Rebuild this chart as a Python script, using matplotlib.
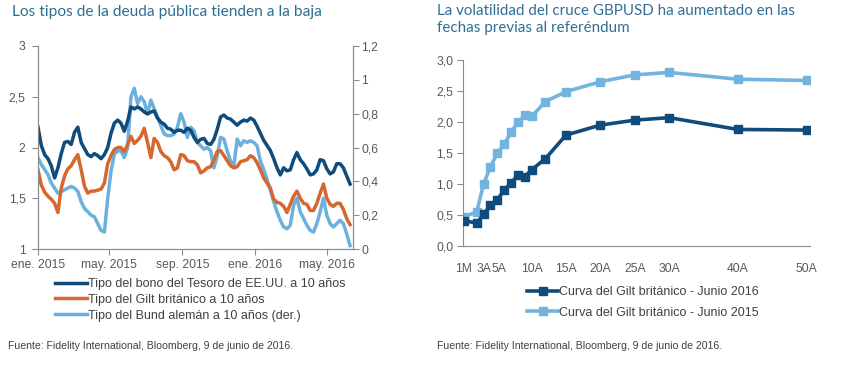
import matplotlib
matplotlib.use("Agg")
import matplotlib.pyplot as plt
import pandas as pd

# ---------------- data: left chart ----------------
start_date = "2015-01-01"
end_date = "2016-06-09"
us_10y = [2.20, 2.02, 1.93, 1.89, 1.82, 1.70, 1.80, 1.94, 2.05, 2.06,
          2.03, 2.15, 2.20, 2.05, 1.99, 1.93, 1.91, 1.94, 1.92, 1.89,
          1.93, 2.00, 2.14, 2.24, 2.27, 2.24, 2.16, 2.26, 2.40, 2.38,
          2.40, 2.38, 2.35, 2.33, 2.35, 2.36, 2.29, 2.25, 2.23, 2.19,
          2.18, 2.15, 2.17, 2.17, 2.15, 2.19, 2.17, 2.10, 2.05, 2.08,
          2.09, 2.04, 2.03, 2.08, 2.18, 2.30, 2.32, 2.29, 2.28, 2.25,
          2.22, 2.25, 2.27, 2.26, 2.29, 2.27, 2.21, 2.14, 2.07, 2.02,
          1.97, 1.89, 1.80, 1.73, 1.80, 1.77, 1.78, 1.88, 1.95, 1.88,
          1.84, 1.79, 1.73, 1.74, 1.78, 1.88, 1.87, 1.79, 1.74, 1.76,
          1.84, 1.84, 1.80, 1.72, 1.64]
gilt_10y = [1.78, 1.63, 1.56, 1.52, 1.49, 1.45, 1.36, 1.60, 1.72, 1.79,
            1.82, 1.88, 1.93, 1.78, 1.62, 1.55, 1.57, 1.57, 1.58, 1.59,
            1.65, 1.84, 1.92, 1.98, 2.00, 2.00, 1.96, 2.03, 2.11, 2.04,
            2.07, 2.11, 2.19, 2.05, 1.90, 2.09, 2.05, 1.96, 1.92, 1.90,
            1.86, 1.78, 1.80, 1.93, 1.92, 1.87, 1.86, 1.86, 1.83, 1.75,
            1.77, 1.80, 1.81, 1.88, 1.96, 1.97, 1.92, 1.87, 1.82, 1.80,
            1.81, 1.86, 1.87, 1.88, 1.92, 1.90, 1.85, 1.78, 1.70, 1.65,
            1.60, 1.49, 1.46, 1.45, 1.42, 1.36, 1.44, 1.52, 1.57, 1.50,
            1.45, 1.44, 1.38, 1.38, 1.45, 1.55, 1.64, 1.50, 1.44, 1.42,
            1.45, 1.45, 1.39, 1.30, 1.24]
bund_10y = [0.54, 0.50, 0.47, 0.44, 0.39, 0.36, 0.33, 0.34, 0.35, 0.36,
            0.37, 0.36, 0.34, 0.28, 0.24, 0.22, 0.20, 0.19, 0.15, 0.11,
            0.10, 0.30, 0.46, 0.56, 0.58, 0.58, 0.54, 0.60, 0.90, 0.95,
            0.86, 0.90, 0.87, 0.80, 0.88, 0.83, 0.78, 0.73, 0.68, 0.67,
            0.67, 0.68, 0.72, 0.80, 0.75, 0.66, 0.72, 0.70, 0.63, 0.61,
            0.59, 0.60, 0.58, 0.48, 0.55, 0.66, 0.65, 0.58, 0.52, 0.49,
            0.65, 0.61, 0.64, 0.63, 0.64, 0.63, 0.61, 0.52, 0.47, 0.41,
            0.35, 0.28, 0.22, 0.17, 0.13, 0.12, 0.14, 0.26, 0.30, 0.22,
            0.18, 0.14, 0.11, 0.10, 0.15, 0.22, 0.30, 0.20, 0.15, 0.13,
            0.15, 0.17, 0.15, 0.09, 0.02]
left_tick_dates = ["2015-01-01", "2015-05-01", "2015-09-01", "2016-01-01", "2016-05-01"]
left_tick_labels = ["ene. 2015", "may. 2015", "sep. 2015", "ene. 2016", "may. 2016"]
left_yticks = [1, 1.5, 2, 2.5, 3]
left_ylabels = ["1", "1,5", "2", "2,5", "3"]
right_yticks = [0, 0.2, 0.4, 0.6, 0.8, 1, 1.2]
right_ylabels = ["0", "0,2", "0,4", "0,6", "0,8", "1", "1,2"]
left_names = ["Tipo del bono del Tesoro de EE.UU. a 10 años",
              "Tipo del Gilt británico a 10 años",
              "Tipo del Bund alemán a 10 años (der.)"]

# ---------------- data: right chart ----------------
maturities = [1/12, 2, 3, 4, 5, 6, 7, 8, 9, 10, 12, 15, 20, 25, 30, 40, 50]
curve_2016 = [0.41, 0.37, 0.51, 0.66, 0.75, 0.90, 1.02, 1.14, 1.12, 1.23,
              1.41, 1.79, 1.95, 2.03, 2.07, 1.88, 1.87]
curve_2015 = [0.47, 0.55, 1.00, 1.28, 1.50, 1.64, 1.84, 2.00, 2.11, 2.09,
              2.33, 2.49, 2.65, 2.76, 2.80, 2.69, 2.67]
right_xticks = [1/12, 3, 5.3, 10, 15, 20, 25, 30, 40, 50]
right_xlabels = ["1M", "3A", "5A", "10A", "15A", "20A", "25A", "30A", "40A", "50A"]
right_yticks_c = [0, 0.5, 1.0, 1.5, 2.0, 2.5, 3.0]
right_names = ["Curva del Gilt británico - Junio 2016", "Curva del Gilt británico - Junio 2015"]

# ---------------- style ----------------
DARK = "#0f4c7d"
ORANGE = "#d5682f"
LIGHT = "#6cb0de"
LIGHT2 = "#72b4df"
AXIS = "#8c8c8c"
TICKTXT = "#595959"
TITLE = "#2f6f93"
TXT = "#404040"

plt.rcParams["font.family"] = ["Liberation Sans", "DejaVu Sans"]

fig = plt.figure(figsize=(8.42, 3.74), dpi=100)

# ---- left chart ----
ax = fig.add_axes([38/842, 1-249/374, (353-38)/842, (249-46)/374])
ax2 = ax.twinx()
dates = pd.date_range(start_date, end_date, periods=len(us_10y))
l1, = ax.plot(dates, us_10y, color=DARK, lw=2.5, solid_joinstyle="round")
l2, = ax.plot(dates, gilt_10y, color=ORANGE, lw=2.5, solid_joinstyle="round")
l3, = ax2.plot(dates, bund_10y, color=LIGHT, lw=2.5, solid_joinstyle="round")
ax.set_zorder(ax2.get_zorder() + 1)
ax.patch.set_visible(False)

ax.set_xlim(pd.Timestamp("2015-01-01"), pd.Timestamp("2016-06-14"))
ax.set_ylim(1, 3)
ax2.set_ylim(0, 1.2)
ax.set_yticks(left_yticks)
ax.set_yticklabels(left_ylabels)
ax2.set_yticks(right_yticks)
ax2.set_yticklabels(right_ylabels)
ax.set_xticks(pd.to_datetime(left_tick_dates))
ax.set_xticklabels(left_tick_labels)
for a in (ax, ax2):
    a.spines["top"].set_visible(False)
    for s in ("left", "right", "bottom"):
        a.spines[s].set_color(AXIS)
        a.spines[s].set_linewidth(0.8)
    a.tick_params(colors=AXIS, labelcolor=TICKTXT, labelsize=8.7, length=4, width=0.8)
ax.tick_params(axis="y", pad=5)
ax2.tick_params(axis="y", pad=2)
ax.tick_params(axis="x", pad=3)

fig.text(12/842, 1-12/374, "Los tipos de la deuda pública tienden a la baja",
         fontsize=11.2, color=TITLE, family=["Lato", "DejaVu Sans"], va="center", ha="left")

fig.legend([l1, l2, l3], left_names, loc="upper left", bbox_to_anchor=(55/842, 1-278/374),
           frameon=False, fontsize=9.0, handlelength=2.55, handletextpad=0.05,
           labelspacing=0.3, borderpad=0, borderaxespad=0, labelcolor=TXT)

fig.text(8/842, 1-346/374, "Fuente: Fidelity International, Bloomberg, 9 de junio de 2016.",
         fontsize=7.6, color=TXT, va="center", ha="left")

# ---- right chart ----
bx = fig.add_axes([463/842, 1-246/374, (810-463)/842, (246-60)/374])
m1, = bx.plot(maturities, curve_2016, color=DARK, lw=2.6, marker="s", ms=5.8, zorder=3)
m2, = bx.plot(maturities, curve_2015, color=LIGHT2, lw=2.6, marker="s", ms=5.8, zorder=2)
bx.set_xlim(0, 50.5)
bx.set_ylim(0, 3.0)
bx.set_yticks(right_yticks_c)
bx.set_yticklabels([f"{v:.1f}".replace(".", ",") for v in right_yticks_c])
bx.set_xticks(right_xticks)
bx.set_xticklabels(right_xlabels)
for s in ("top", "right"):
    bx.spines[s].set_visible(False)
for s in ("left", "bottom"):
    bx.spines[s].set_color(AXIS)
    bx.spines[s].set_linewidth(0.8)
bx.tick_params(colors=AXIS, labelcolor=TICKTXT, labelsize=8.7, width=0.8)
bx.tick_params(axis="y", length=4, pad=3)
bx.tick_params(axis="x", length=0, pad=12)

fig.text(437/842, 1-11/374, "La volatilidad del cruce GBPUSD ha aumentado en las",
         fontsize=10.9, color=TITLE, family=["Lato", "DejaVu Sans"], va="center", ha="left")
fig.text(437/842, 1-28/374, "fechas previas al referéndum",
         fontsize=10.9, color=TITLE, family=["Lato", "DejaVu Sans"], va="center", ha="left")

fig.legend([m1, m2], right_names, loc="upper left", bbox_to_anchor=(527/842, 1-286/374),
           frameon=False, fontsize=9.0, handlelength=2.5, handletextpad=0.05,
           labelspacing=0.7, borderpad=0, borderaxespad=0, numpoints=1,
           markerscale=1.0, labelcolor=TXT)

fig.text(437/842, 1-346/374, "Fuente: Fidelity International, Bloomberg, 9 de junio de 2016.",
         fontsize=7.6, color=TXT, va="center", ha="left")

fig.savefig("out.png", dpi=100)
